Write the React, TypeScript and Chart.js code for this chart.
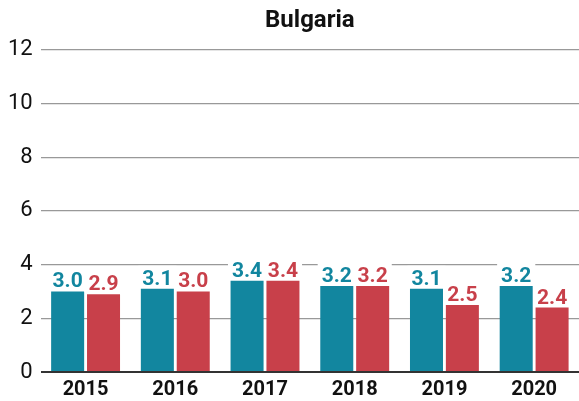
import React, { useEffect, useRef } from "react";
import { Chart, registerables } from "chart.js";

Chart.register(...registerables);

const categories = ["2015", "2016", "2017", "2018", "2019", "2020"];
const seriesA = [3.0, 3.1, 3.4, 3.2, 3.1, 3.2];
const seriesB = [2.9, 3.0, 3.4, 3.2, 2.5, 2.4];
const yTicks = [0, 2, 4, 6, 8, 10, 12];
const titleText = "Bulgaria";

const TEAL = "#12869f";
const RED = "#c8404a";

const labelPlugin = {
  id: "valueLabels",
  afterDatasetsDraw(chart: any) {
    const ctx = chart.ctx;
    ctx.save();
    ctx.font = "bold 21px Roboto";
    ctx.textAlign = "center";
    ctx.textBaseline = "alphabetic";
    chart.data.datasets.forEach((ds: any, di: number) => {
      const meta = chart.getDatasetMeta(di);
      meta.data.forEach((el: any, i: number) => {
        const v = ds.data[i];
        const txt = v.toFixed(1);
        const w = ctx.measureText(txt).width;
        const baseY = el.y - 4;
        ctx.fillStyle = "#ffffff";
        ctx.fillRect(el.x - w / 2 - 4, baseY - 19, w + 8, 21);
        ctx.fillStyle = ds.backgroundColor;
        ctx.fillText(txt, el.x, baseY);
      });
    });
    ctx.restore();
  },
};

export default function App() {
  const ref = useRef<HTMLCanvasElement>(null);
  useEffect(() => {
    document.body.style.margin = "0";
    const chart = new Chart(ref.current!, {
      type: "bar",
      data: {
        labels: categories,
        datasets: [
          { label: "A", data: seriesA, backgroundColor: TEAL, categoryPercentage: 0.8, barPercentage: 0.92 },
          { label: "B", data: seriesB, backgroundColor: RED, categoryPercentage: 0.8, barPercentage: 0.92 },
        ],
      },
      options: {
        animation: false,
        responsive: false,
        maintainAspectRatio: false,
        layout: { padding: { left: 0, right: -2, top: 0, bottom: -7 } },
        plugins: {
          legend: { display: false },
          tooltip: { enabled: false },
          title: {
            display: true,
            text: titleText,
            fullSize: false,
            color: "#111",
            font: { family: "Roboto", size: 24, weight: "bold" },
            padding: { top: 7, bottom: 14 },
          },
        },
        scales: {
          x: {
            grid: { display: false, drawTicks: false },
            border: { display: false },
            ticks: {
              color: "#111",
              font: { family: "Roboto", size: 20, weight: "bold" },
              padding: 6,
            },
          },
          y: {
            min: 0,
            max: 12,
            afterBuildTicks: (axis: any) => {
              axis.ticks = yTicks.map((v) => ({ value: v }));
            },
            border: { display: false },
            grid: {
              drawTicks: false,
              color: (c: any) => (c.tick && c.tick.value === 0 ? "#333" : "#999"),
              lineWidth: (c: any) => (c.tick && c.tick.value === 0 ? 2 : 1.2),
            },
            ticks: {
              color: "#111",
              font: { family: "Roboto", size: 22 },
              padding: 8,
            },
          },
        },
      },
      plugins: [labelPlugin],
    });
    return () => chart.destroy();
  }, []);
  return (
    <div style={{ position: "absolute", left: 0, top: 0, width: 579, height: 401 }}>
      <canvas ref={ref} width={579} height={401} style={{ width: 579, height: 401, display: "block" }} />
    </div>
  );
}
